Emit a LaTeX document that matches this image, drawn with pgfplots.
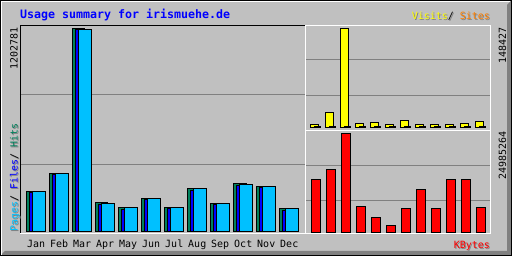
\documentclass[border=0pt]{standalone}
\usepackage{pgfplots}
\pgfplotsset{compat=1.18}
\usepackage{fontspec}
\setmainfont{DejaVu Sans}
\setmonofont{DejaVu Sans Mono}
\definecolor{bg}{HTML}{C0C0C0}
\definecolor{dkg}{HTML}{808080}
\definecolor{hitc}{HTML}{00805C}
\definecolor{filec}{HTML}{0000FF}
\definecolor{pagec}{HTML}{00C0FF}
\definecolor{visitc}{HTML}{FFFF00}
\definecolor{sitec}{HTML}{FF8000}
\definecolor{kbc}{HTML}{FF0000}
\newcommand{\sm}{\fontsize{9.97}{12}\selectfont\ttfamily}
\newcommand{\tl}{\fontsize{11.63}{13}\selectfont\ttfamily\bfseries}
\pgfplotsset{
  panel/.style={scale only axis, anchor=south west, axis line style={draw=none},
    major tick length=0pt, scaled y ticks=false, ytick style={draw=none},
    yticklabel=\empty, ymin=0,
    ymajorgrids, grid style={dkg, line width=1pt}},
  gbar/.style={ybar, draw=black, line width=1pt, fill=#1}
}
\begin{document}
\begin{tikzpicture}[x=1pt,y=1pt]
\fill[bg] (0,0) rectangle (512,256);
% 3D frame
\fill[dkg] (1,1) -- (511,1) -- (511,255) -- (507,251) -- (507,5) -- (5,5) -- cycle;
\draw[white, line width=1pt] (1.5,1) -- (1.5,254.5) -- (510,254.5);
\draw[black, line width=1pt] (0.5,0.5) rectangle (511.5,255.5);

% Hits / Files / Pages
\begin{axis}[panel, at={(20pt,24pt)}, width=285pt, height=207pt,
  xmin=-0.5543, xmax=11.837, ymax=1226482,
  ytick={396970,811720},
  xtick={0,...,11}, xticklabels={Jan,Feb,Mar,Apr,May,Jun,Jul,Aug,Sep,Oct,Nov,Dec},
  xticklabel style={font=\sm, anchor=base, yshift=-16pt, xshift=3.5pt, inner sep=0pt}]
\addplot[gbar=hitc, bar width=12.5pt, bar shift=0pt] coordinates {
 (0,239960) (1,344840) (2,1202781) (3,173010) (4,143390) (5,196710)
 (6,143390) (7,255960) (8,167090) (9,285590) (10,267810) (11,137460)};
\addplot[gbar=filec, bar width=12.5pt, bar shift=3.2pt] coordinates {
 (0,232260) (1,338910) (2,1199000) (3,161160) (4,131540) (5,192560)
 (6,137460) (7,244110) (8,161160) (9,273740) (10,261890) (11,125610)};
\addplot[gbar=pagec, bar width=12.5pt, bar shift=6.4pt] coordinates {
 (0,239500) (1,344300) (2,1200500) (3,167090) (4,143000) (5,196300)
 (6,143000) (7,255500) (8,166700) (9,282630) (10,267400) (11,137000)};
\end{axis}

% Visits / Sites
\begin{axis}[panel, at={(305pt,128.5pt)}, width=185pt, height=102.5pt,
  xmin=-0.6233, xmax=11.71, ymax=154455, xtick=\empty,
  ytick={48522,101713}]
\addplot[gbar=visitc, bar width=7.5pt, bar shift=0pt] coordinates {
 (0,3770) (1,22300) (2,148427) (3,5730) (4,7230) (5,3770)
 (6,10250) (7,3770) (8,3770) (9,3770) (10,5730) (11,8740)};
\addplot[gbar=sitec, bar width=6pt, bar shift=3.15pt] coordinates {
 (0,1300) (1,1500) (2,1900) (3,1200) (4,1200) (5,1100)
 (6,1300) (7,1100) (8,1100) (9,1100) (10,1200) (11,1300)};
\end{axis}

% KBytes
\begin{axis}[panel, at={(305pt,23.5pt)}, width=185pt, height=102.5pt,
  xmin=-0.7333, xmax=11.6, ymax=25999910, xtick=\empty,
  ytick={8167800,17045800}]
\addplot[gbar=kbc, bar width=9pt, bar shift=0pt] coordinates {
 (0,13444000) (1,15980000) (2,24985264) (3,6595000) (4,3805000) (5,1775000)
 (6,6088000) (7,10907000) (8,6088000) (9,13444000) (10,13444000) (11,6341000)};
\end{axis}

% panel frames
\draw[black, line width=1pt] (20.5,22.5) -- (20.5,230.5) -- (305,230.5);
\draw[white, line width=1pt] (20,22.5) -- (305.5,22.5) -- (305.5,231);
\draw[white, line width=1pt] (305.5,230.5) -- (490.5,230.5) -- (490.5,22.5) -- (305.5,22.5);
\draw[white, line width=1pt] (305.5,125.5) -- (490.5,125.5);

% title
\node[anchor=base west, inner sep=0pt, text=filec, font=\tl] at (20,237) {Usage summary for irismuehe.de};

% Visits / Sites legend
\node[anchor=base east, inner sep=0pt, text=dkg, font=\sm] at (491,235) {Visits/ Sites};
\node[anchor=base east, inner sep=0pt, font=\sm] at (490,236) {\textcolor{visitc}{Visits}\textcolor{black}{/}\ \textcolor{sitec}{Sites}};

% KBytes legend
\node[anchor=base east, inner sep=0pt, text=dkg, font=\sm] at (491,6) {KBytes};
\node[anchor=base east, inner sep=0pt, text=kbc, font=\sm] at (490,7) {KBytes};

% Pages / Files / Hits legend
\node[rotate=90, anchor=base west, inner sep=0pt, text=dkg, font=\sm] at (18.5,23.5) {Pages/ Files/ Hits};
\node[rotate=90, anchor=base west, inner sep=0pt, font=\sm] at (17.5,24.5) {\textcolor{pagec}{Pages}\textcolor{black}{/}\ \textcolor{filec}{Files}\textcolor{black}{/}\ \textcolor{hitc}{Hits}};

% max values
\node[rotate=90, anchor=base east, inner sep=0pt, font=\sm] at (17.5,229) {1202781};
\node[rotate=90, anchor=base east, inner sep=0pt, font=\sm] at (506,228.3) {148427};
\node[rotate=90, anchor=base east, inner sep=0pt, font=\sm] at (506,124.5) {24985264};
\end{tikzpicture}
\end{document}
